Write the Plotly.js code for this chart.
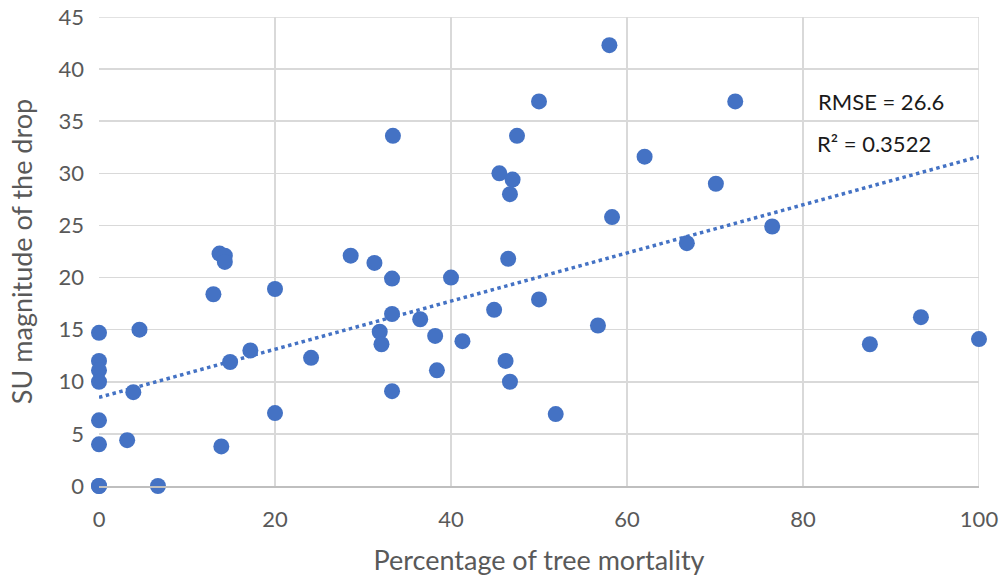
<!DOCTYPE html>
<html>
<head>
<meta charset="utf-8">
<script src="https://cdn.plot.ly/plotly-3.0.1.min.js"></script>
<style>html,body{margin:0;padding:0;background:#fff;}#chart{width:1008px;height:585px;}</style>
</head>
<body>
<div id="chart"></div>
<script>
const mortality = [0,0,0,0,0,0,0,0,3.2,3.9,4.6,6.7,13.0,13.7,14.3,14.3,13.9,14.9,17.2,20.0,20.0,24.1,28.6,31.3,31.9,32.1,33.3,33.3,33.3,33.4,36.5,38.2,38.4,40.0,41.3,44.9,45.5,46.2,46.5,46.7,46.7,47.0,47.5,50.0,50.0,51.9,56.7,58.0,58.3,62.0,66.8,70.1,72.3,76.5,87.6,93.4,100];
const drop      = [14.7,12.0,11.1,10.0,6.3,4.0,0,0,4.4,9.0,15.0,0,18.4,22.3,22.1,21.5,3.8,11.9,13.0,18.9,7.0,12.3,22.1,21.4,14.8,13.6,19.9,16.5,9.1,33.6,16.0,14.4,11.1,20.0,13.9,16.9,30.0,12.0,21.8,28.0,10.0,29.4,33.6,36.9,17.9,6.9,15.4,42.3,25.8,31.6,23.3,29.0,36.9,24.9,13.6,16.2,14.1];
const trendX = [0, 100];
const trendY = [8.5, 31.6];
const xTicks = [0, 20, 40, 60, 80, 100];
const yTicks = [0, 5, 10, 15, 20, 25, 30, 35, 40, 45];
const statLabels = ["RMSE = 26.6", "R² = 0.3522"];

const blue = '#4472C4';
const font = 'Lato, "Open Sans", sans-serif';

const traces = [
  {x: trendX, y: trendY, type: 'scatter', mode: 'lines',
   line: {color: blue, width: 3.5, dash: 'dot'}, hoverinfo: 'skip', cliponaxis: false},
  {x: mortality, y: drop, type: 'scatter', mode: 'markers',
   marker: {color: blue, size: 16, line: {color: blue, width: 0}}, cliponaxis: false}
];

const layout = {
  width: 1008, height: 585,
  margin: {l: 99, r: 29, t: 17, b: 99},
  paper_bgcolor: '#fff', plot_bgcolor: '#fff',
  showlegend: false,
  font: {family: font, color: '#595959', size: 22},
  xaxis: {
    range: [0, 100], tickvals: xTicks, ticktext: xTicks.map(String),
    showgrid: true, gridcolor: '#d9d9d9', gridwidth: 1.5,
    zeroline: false, showline: true, linecolor: '#bfbfbf', linewidth: 1.5, mirror: false,
    ticks: '', ticklabelstandoff: 13,
    tickfont: {family: font, size: 22, color: '#595959'},
    title: {text: 'Percentage of tree mortality', font: {family: font, size: 27, color: '#595959'}, standoff: 20}
  },
  yaxis: {
    range: [0, 45], tickvals: yTicks, ticktext: yTicks.map(String),
    showgrid: true, gridcolor: '#d9d9d9', gridwidth: 1.5,
    zeroline: false, showline: false,
    ticks: '', ticklabelstandoff: 14,
    tickfont: {family: font, size: 22, color: '#595959'},
    title: {text: 'SU magnitude of the drop', font: {family: font, size: 27, color: '#595959'}, standoff: 18}
  },
  annotations: [
    {text: statLabels[0], xref: 'paper', yref: 'paper', x: 0.815, y: 0.82, xanchor: 'left', yanchor: 'middle',
     showarrow: false, font: {family: font, size: 22, color: '#1a1a1a'}},
    {text: statLabels[1], xref: 'paper', yref: 'paper', x: 0.814, y: 0.73, xanchor: 'left', yanchor: 'middle',
     showarrow: false, font: {family: font, size: 22, color: '#1a1a1a'}}
  ],
  shapes: [
    {type: 'line', xref: 'x', yref: 'paper', x0: 100, x1: 100, y0: 0, y1: 1, line: {color: '#d9d9d9', width: 1.5}, layer: 'below'},
    {type: 'line', xref: 'paper', yref: 'y', x0: 0, x1: 1, y0: 45, y1: 45, line: {color: '#d9d9d9', width: 1.5}, layer: 'below'}
  ]
};

Plotly.newPlot('chart', traces, layout, {staticPlot: true, displayModeBar: false});
</script>
</body>
</html>
